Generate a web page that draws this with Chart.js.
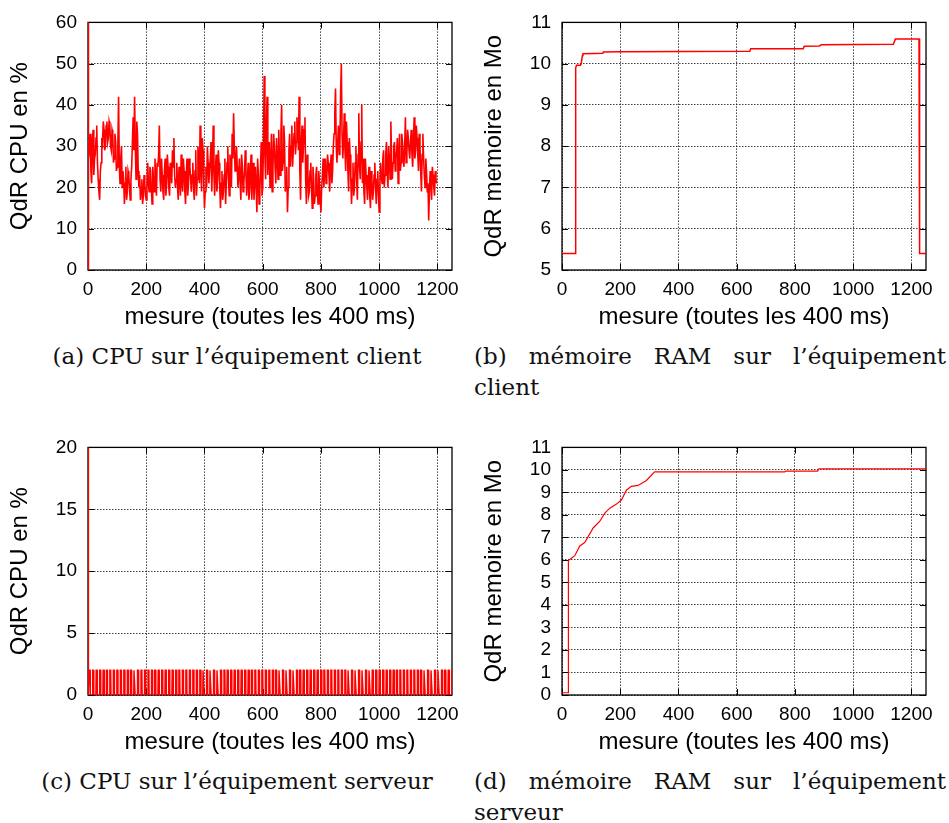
<!DOCTYPE html>
<html>
<head>
<meta charset="utf-8">
<script src="https://cdn.jsdelivr.net/npm/chart.js@4.4.1/dist/chart.umd.min.js"></script>
<style>
  body { margin: 0; width: 949px; height: 823px; background: #fff; position: relative; overflow: hidden; }
  canvas { position: absolute; }
  .cap { position: absolute; font-family: "DejaVu Serif", serif; font-size: 23px; line-height: 31px; color: #111; }
  .just { text-align: justify; }
  .mid { text-align: center; }
</style>
</head>
<body>
<canvas id="cpuClient" width="470" height="335" style="left:0;top:0"></canvas>
<canvas id="ramClient" width="479" height="335" style="left:470px;top:0"></canvas>
<canvas id="cpuServer" width="470" height="335" style="left:0;top:425px"></canvas>
<canvas id="ramServer" width="479" height="335" style="left:470px;top:425px"></canvas>

<div class="cap mid" style="left:0;top:341px;width:474px">(a) CPU sur l’équipement client</div>
<div class="cap just" style="left:474px;top:341px;width:472px">(b) mémoire RAM sur l’équipement client</div>
<div class="cap mid" style="left:0;top:766px;width:474px">(c) CPU sur l’équipement serveur</div>
<div class="cap just" style="left:474px;top:766px;width:472px">(d) mémoire RAM sur l’équipement serveur</div>

<script>
// x axis: one measure every 400 ms
const xTicks = [0, 200, 400, 600, 800, 1000, 1200];
const xTitle = "mesure (toutes les 400 ms)";

const cpuClientHeadX = [0, 0, 3];
const cpuClientHeadY = [65, 0, 27];
const cpuClientStep = 5;
const cpuClientY = [
  29, 24, 31, 23, 28, 35, 22, 17, 26, 31,
  34, 30, 36, 32, 35, 29, 33, 27, 31, 25,
  42, 21, 30, 24, 16, 25, 19, 23, 17, 25,
  37, 42, 22, 33, 20, 17, 22, 18, 21, 17,
  26, 19, 24, 16, 22, 27, 18, 25, 35, 19,
  23, 17, 27, 21, 25, 18, 24, 29, 32, 20,
  26, 17, 23, 28, 19, 24, 16, 27, 21, 25,
  19, 26, 17, 29, 22, 27, 35, 19, 29, 15,
  25, 30, 21, 27, 19, 35, 18, 28, 22, 26,
  15, 24, 19, 27, 21, 30, 18, 25, 33, 38,
  24, 30, 20, 27, 17, 25, 21, 29, 18, 26,
  19, 28, 22, 17, 25, 14, 23, 19, 31, 20,
  47, 22, 42, 27, 20, 33, 24, 30, 21, 28,
  34, 23, 40, 26, 31, 22, 14, 29, 25, 35,
  29, 36, 31, 34, 42, 17, 35, 30, 37, 16,
  24, 19, 26, 15, 22, 18, 25, 16, 21, 14,
  23, 20, 27, 22, 26, 19, 28, 24, 33, 44,
  26, 35, 30, 50, 27, 38, 24, 31, 19, 28,
  16, 26, 20, 30, 17, 38, 22, 40, 27, 16,
  23, 17, 25, 15, 22, 19, 26, 16, 24, 14,
  26, 21, 29, 23, 31, 20, 27, 36, 22, 30,
  24, 29, 21, 33, 26, 31, 25, 37, 28, 32,
  27, 34, 25, 37, 29, 32, 24, 30, 19, 33,
  23, 27, 19, 12, 24, 17, 23, 18, 22
];
const cpuClientMidY = [
  33, 21, 34, 27, 32, 26, 19, 24, 32, 36,
  29, 35, 31, 36, 30, 34, 26, 33, 24, 30,
  25, 27, 20, 22, 21, 17, 24, 20, 22, 31,
  29, 30, 36, 24, 23, 20, 16, 23, 18, 21,
  21, 25, 20, 25, 19, 22, 26, 28, 22, 27,
  19, 24, 18, 28, 20, 26, 21, 25, 23, 22,
  20, 25, 18, 22, 27, 19, 23, 18, 27, 22,
  23, 20, 24, 18, 30, 21, 25, 32, 21, 19,
  20, 26, 24, 31, 26, 23, 24, 19, 29, 20,
  21, 17, 23, 16, 26, 22, 28, 20, 27, 30,
  27, 25, 23, 21, 28, 19, 24, 23, 22, 17,
  23, 17, 26, 21, 20, 27, 16, 25, 18, 30,
  28, 35, 23, 31, 26, 19, 33, 25, 32, 22,
  27, 33, 24, 35, 19, 25, 20, 33, 30, 25,
  33, 28, 37, 29, 24, 31, 26, 34, 22, 28,
  18, 24, 20, 25, 16, 23, 19, 24, 17, 20,
  27, 24, 21, 28, 23, 25, 21, 30, 38, 30,
  31, 28, 43, 33, 31, 29, 36, 24, 32, 22,
  22, 18, 26, 22, 28, 25, 31, 21, 19, 27,
  20, 22, 18, 24, 17, 23, 20, 22, 18, 21,
  23, 27, 20, 28, 24, 30, 22, 27, 26, 31,
  27, 32, 28, 24, 33, 27, 30, 26, 34, 29,
  31, 28, 31, 27, 35, 28, 33, 24, 28, 27,
  20, 24, 21, 19, 21, 25, 20, 24, 21
];

// (b) RAM client (Mo)
const ramClientX = [0, 45, 46, 48, 50, 63, 66, 70, 72, 140, 142, 200, 645, 648, 828, 832, 885, 890, 1138, 1145, 1226, 1228, 1250];
const ramClientY = [5.4, 5.4, 9.72, 9.9, 9.96, 9.96, 10.0, 10.2, 10.24, 10.25, 10.28, 10.29, 10.3, 10.36, 10.36, 10.42, 10.43, 10.46, 10.47, 10.6, 10.6, 5.4, 5.4];

// (c) CPU serveur: short 2 % peaks
const cpuServerPeak = 2;
const cpuServerSpikes = [
  4, 16, 28, 40, 52, 63, 75, 87, 99, 111, 123, 135, 146, 158, 170, 182, 194, 206, 218, 229,
  241, 253, 265, 277, 289, 301, 312, 324, 336, 348, 360, 372, 384, 395, 407, 419, 431, 443, 455, 467,
  478, 490, 502, 514, 526, 538, 550, 561, 573, 585, 597, 609, 621, 633, 644, 656, 668, 680, 692, 704,
  716, 727, 739, 751, 763, 775, 787, 799, 810, 822, 834, 846, 858, 870, 882, 893, 905, 917, 929, 941,
  953, 965, 976, 988, 1000, 1012, 1024, 1036, 1048, 1059, 1071, 1083, 1095, 1107, 1119, 1131, 1142, 1154, 1166, 1178,
  1190, 1202, 1214, 1225, 1237, 1249
];

// (d) RAM serveur (Mo)
const ramServerX = [0, 21, 22, 44, 61, 78, 107, 130, 147, 164, 187, 204, 221, 238, 261, 290, 318, 765, 768, 878, 882, 1250];
const ramServerY = [0.1, 0.1, 5.97, 6.19, 6.62, 6.77, 7.42, 7.72, 8.08, 8.30, 8.48, 8.66, 9.10, 9.27, 9.31, 9.53, 9.91, 9.91, 9.95, 9.95, 10.05, 10.05];

const tickFont = { family: "'Liberation Sans', Arial, sans-serif", size: 19 };
const titleFont = { family: "'Liberation Sans', Arial, sans-serif", size: 24 };
const gridColor = "rgba(0,0,0,0.75)";

// gnuplot style box with inward ticks
const framePlugin = {
  id: "frame",
  beforeDatasetsDraw(chart) {
    const { ctx, chartArea: a, scales } = chart;
    ctx.save();
    ctx.strokeStyle = "#000";
    ctx.lineWidth = 1.3;
    ctx.strokeRect(a.left, a.top, a.right - a.left, a.bottom - a.top);
    ctx.lineWidth = 1;
    ctx.beginPath();
    scales.x.ticks.forEach(t => {
      const px = Math.round(scales.x.getPixelForValue(t.value)) + 0.5;
      ctx.moveTo(px, a.bottom); ctx.lineTo(px, a.bottom - 6);
      ctx.moveTo(px, a.top); ctx.lineTo(px, a.top + 6);
    });
    scales.y.ticks.forEach(t => {
      const py = Math.round(scales.y.getPixelForValue(t.value)) + 0.5;
      ctx.moveTo(a.left, py); ctx.lineTo(a.left + 6, py);
      ctx.moveTo(a.right, py); ctx.lineTo(a.right - 6, py);
    });
    ctx.stroke();
    ctx.restore();
  }
};

function drawPanel(id, points, o) {
  return new Chart(document.getElementById(id), {
    type: "line",
    data: {
      datasets: [{
        data: points,
        borderColor: "#ff0000",
        borderWidth: o.lw,
        pointRadius: 0,
        fill: false,
        tension: 0
      }]
    },
    options: {
      responsive: false,
      animation: false,
      devicePixelRatio: 1,
      layout: { padding: { top: 18, right: o.right, left: 0, bottom: 0 } },
      plugins: { legend: { display: false }, tooltip: { enabled: false } },
      scales: {
        x: {
          type: "linear",
          min: 0,
          max: 1250,
          afterBuildTicks: s => { s.ticks = xTicks.map(v => ({ value: v })); },
          afterFit: s => { s.height = 65; },
          ticks: { font: tickFont, color: "#000", padding: 8, maxRotation: 0, autoSkip: false, callback: v => String(v) },
          grid: { color: gridColor, drawTicks: false, lineWidth: 1 },
          border: { display: false, dash: [1.5, 1.5] },
          title: { display: true, text: xTitle, font: titleFont, color: "#000", padding: { top: 0, bottom: 3 } }
        },
        y: {
          type: "linear",
          min: o.yMin,
          max: o.yMax,
          afterFit: s => { s.width = o.left; },
          ticks: { stepSize: o.yStep, font: tickFont, color: "#000", padding: 11, autoSkip: false, maxTicksLimit: 30, callback: v => String(v) },
          grid: { color: gridColor, drawTicks: false, lineWidth: 1 },
          border: { display: false, dash: [1.5, 1.5] },
          title: { display: true, text: o.yTitle, font: titleFont, color: "#000", padding: { top: o.tp, bottom: 0 } }
        }
      }
    },
    plugins: [framePlugin]
  });
}

const cpuClientPts = cpuClientHeadX.map((x, i) => ({ x, y: cpuClientHeadY[i] }));
cpuClientY.forEach((y, i) => {
  const x = (i + 1) * cpuClientStep;
  cpuClientPts.push({ x, y }, { x: x + cpuClientStep / 2, y: cpuClientMidY[i] });
});

const ramClientPts = ramClientX.map((x, i) => ({ x, y: ramClientY[i] }));

const cpuServerPts = [{ x: 0, y: 25 }, { x: 0, y: 0 }];
cpuServerSpikes.forEach(p => {
  cpuServerPts.push({ x: p - 1, y: 0 }, { x: p, y: cpuServerPeak }, { x: p + 3, y: cpuServerPeak }, { x: p + 4, y: 0 });
});

const ramServerPts = ramServerX.map((x, i) => ({ x, y: ramServerY[i] }));

drawPanel("cpuClient", cpuClientPts, { yMin: 0, yMax: 60, yStep: 10, yTitle: "QdR CPU en %", left: 88, right: 18, tp: 6, lw: 1.6 });
drawPanel("ramClient", ramClientPts, { yMin: 5, yMax: 11, yStep: 1, yTitle: "QdR memoire en Mo", left: 92, right: 23, tp: 10, lw: 1.5 });
drawPanel("cpuServer", cpuServerPts, { yMin: 0, yMax: 20, yStep: 5, yTitle: "QdR CPU en %", left: 88, right: 18, tp: 6, lw: 1.4 });
drawPanel("ramServer", ramServerPts, { yMin: 0, yMax: 11, yStep: 1, yTitle: "QdR memoire en Mo", left: 92, right: 23, tp: 10, lw: 1.2 });
</script>
</body>
</html>
